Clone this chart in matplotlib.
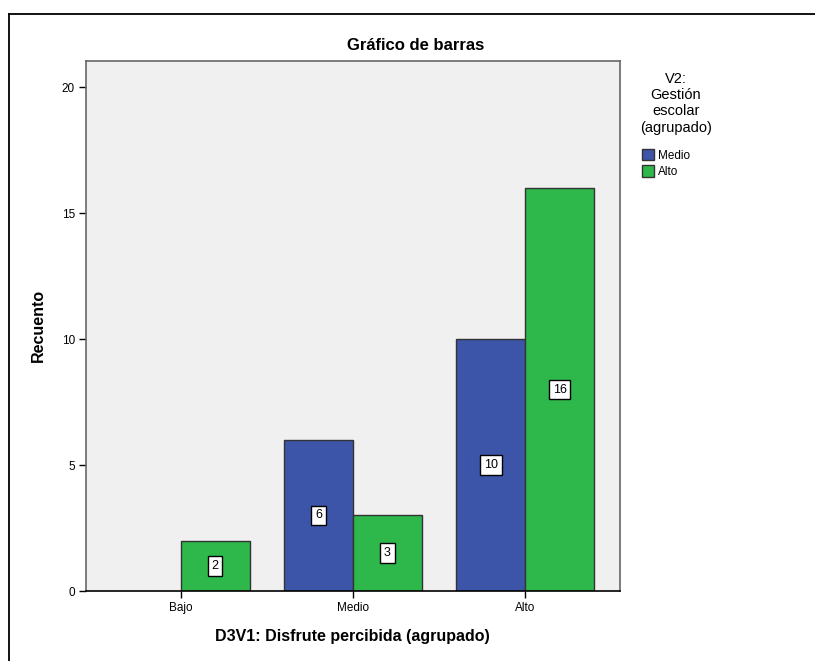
import matplotlib
matplotlib.use("Agg")
import matplotlib.pyplot as plt
from matplotlib.lines import Line2D
import numpy as np

plt.rcParams['font.family'] = ['Liberation Sans', 'DejaVu Sans']

categories = ["Bajo", "Medio", "Alto"]
series_names = ["Medio", "Alto"]
medio_vals = [0, 6, 10]
alto_vals = [2, 3, 16]
yticks = [0, 5, 10, 15, 20]

title = "Gráfico de barras"
xlabel = "D3V1: Disfrute percibida (agrupado)"
ylabel = "Recuento"
legend_title = "V2:\nGestión\nescolar\n(agrupado)"

blue = "#3D55A9"
green = "#2EB84B"

fig = plt.figure(figsize=(8.15, 6.61), dpi=100)
ax = fig.add_axes([86/815, 1-591/661, (620-86)/815, (591-61)/661])
ax.set_facecolor("#F0F0F0")

x = np.arange(len(categories))
w = 0.4
for vals, off, col, name in [(medio_vals, -w/2, blue, series_names[0]),
                              (alto_vals, w/2, green, series_names[1])]:
    heights = [v if v > 0 else np.nan for v in vals]
    ax.bar(x + off, heights, width=w, color=col, edgecolor="#333333",
           linewidth=1, label=name, zorder=2)
    for xi, v in zip(x + off, vals):
        if v > 0:
            ax.text(xi, v/2, str(v), ha="center", va="center", fontsize=9,
                    zorder=3,
                    bbox=dict(boxstyle="square,pad=0.3", fc="white",
                              ec="black", lw=1))

ax.set_xlim(-0.55, 2.55)
ax.set_ylim(0, 21.05)
ax.set_xticks(x)
ax.set_xticklabels(categories, fontsize=8.5)
ax.set_yticks(yticks)
ax.set_yticklabels([str(t) for t in yticks], fontsize=8.5)
ax.tick_params(axis="both", direction="out", length=5, width=1, color="black",
               pad=3)
for s in ["left", "top", "right"]:
    ax.spines[s].set_color("#666666")
    ax.spines[s].set_linewidth(1.2)
ax.spines["bottom"].set_color("black")
ax.spines["bottom"].set_linewidth(1.2)

fig.text(416/815, 1-45/661, title, ha="center", va="center", fontsize=12,
         fontweight="bold")
fig.text(352/815, 1-636/661, xlabel, ha="center", va="center", fontsize=11.5,
         fontweight="bold")
fig.text(38/815, 1-325/661, ylabel, ha="center", va="center", fontsize=11.5,
         fontweight="bold", rotation=90)

# legend title
fig.text(676/815, 1-72/661, legend_title, ha="center", va="top", fontsize=10.5,
         linespacing=1.2)

leg = ax.legend(loc="upper left", bbox_to_anchor=(642/815, 1-149/661),
                bbox_transform=fig.transFigure, frameon=False,
                fontsize=8.5, handlelength=1.0, handleheight=1.1,
                handletextpad=0.35, labelspacing=0.3, borderpad=0.0,
                borderaxespad=0)
for h in leg.legend_handles:
    h.set_edgecolor("#333333")

# figure frame (top and left edges visible)
fig.add_artist(Line2D([9/815, 9/815], [0, 1-14/661], transform=fig.transFigure,
                      color="black", lw=1.3))
fig.add_artist(Line2D([9/815, 1], [1-14/661, 1-14/661], transform=fig.transFigure,
                      color="black", lw=1.3))

fig.savefig("out.png", dpi=100, facecolor="white")
